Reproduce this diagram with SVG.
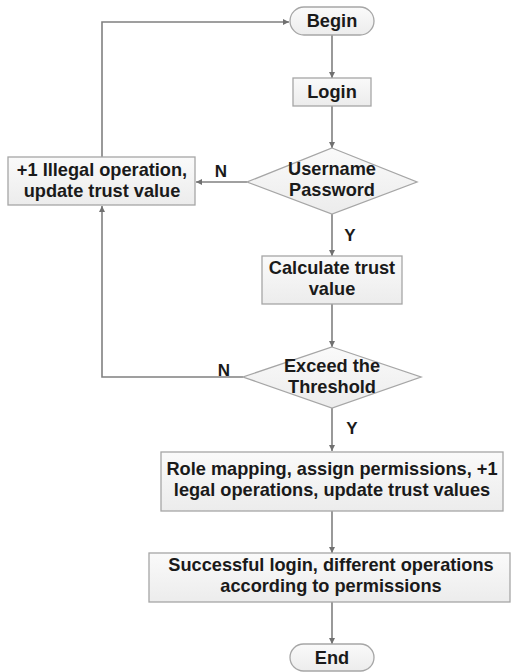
<svg xmlns="http://www.w3.org/2000/svg" width="511" height="672" viewBox="0 0 511 672">
<style>
.box{fill:url(#g);stroke:#a6a6a6;stroke-width:1.3}
.t{font-family:"Liberation Sans",Arial,sans-serif;font-weight:bold;font-size:18.2px;fill:#1a1a1a;text-anchor:middle}
.lbl{font-family:"Liberation Sans",Arial,sans-serif;font-weight:bold;font-size:17px;fill:#1a1a1a;text-anchor:middle}
.c{fill:none;stroke:#808080;stroke-width:1.6;marker-end:url(#a)}
</style>
<defs>
<linearGradient id="g" x1="0" y1="0" x2="0" y2="1">
<stop offset="0" stop-color="#fafafa"/>
<stop offset="1" stop-color="#ececec"/>
</linearGradient>
<marker id="a" viewBox="0 0 10 10" refX="10" refY="5" markerWidth="6" markerHeight="6" orient="auto" markerUnits="userSpaceOnUse">
<path d="M0,0 L10,5 L0,10 z" fill="#707070"/>
</marker>
</defs>
<rect width="511" height="672" fill="#ffffff"/>
<g id="connectors">
<path class="c" d="M332,35 V78"/>
<path class="c" d="M332,106 V148"/>
<path class="c" d="M247,182 H196"/>
<path class="c" d="M102,157 V22 H289"/>
<path class="c" d="M332,214 V256"/>
<path class="c" d="M332,304 V347"/>
<path class="c" d="M243,377 H102 V206"/>
<path class="c" d="M332,408 V451"/>
<path class="c" d="M332,511 V553"/>
<path class="c" d="M332,602 V644"/>
<text class="lbl" x="221" y="177">N</text>
<text class="lbl" x="224" y="376">N</text>
<text class="lbl" x="350" y="241">Y</text>
<text class="lbl" x="352" y="434">Y</text>
</g>
<g id="begin">
<rect class="box" x="290" y="7" width="84" height="28" rx="14" ry="14"/>
<text class="t" x="332" y="27">Begin</text>
</g>
<g id="login">
<rect class="box" x="293" y="78" width="78" height="28"/>
<text class="t" x="332" y="98">Login</text>
</g>
<g id="username">
<polygon class="box" points="332,148 417,182 332,214 247,182"/>
<text class="t" x="332" y="175">Username</text>
<text class="t" x="332" y="196">Password</text>
</g>
<g id="illegal">
<rect class="box" x="8" y="157" width="187" height="48"/>
<text class="t" x="102" y="176">+1 Illegal operation,</text>
<text class="t" x="102" y="197">update trust value</text>
</g>
<g id="calc">
<rect class="box" x="262" y="256" width="140" height="48"/>
<text class="t" x="332" y="274">Calculate trust</text>
<text class="t" x="332" y="295">value</text>
</g>
<g id="threshold">
<polygon class="box" points="332,347 421,377 332,408 243,377"/>
<text class="t" x="332" y="372">Exceed the</text>
<text class="t" x="332" y="393">Threshold</text>
</g>
<g id="role">
<rect class="box" x="161" y="452" width="342" height="59"/>
<text class="t" x="332" y="475">Role mapping, assign permissions, +1</text>
<text class="t" x="332" y="496">legal operations, update trust values</text>
</g>
<g id="success">
<rect class="box" x="149" y="553" width="361" height="49"/>
<text class="t" x="331" y="571">Successful login, different operations</text>
<text class="t" x="331" y="592">according to permissions</text>
</g>
<g id="end">
<rect class="box" x="290" y="644" width="84" height="27" rx="13.5" ry="13.5"/>
<text class="t" x="332" y="664">End</text>
</g>
</svg>
